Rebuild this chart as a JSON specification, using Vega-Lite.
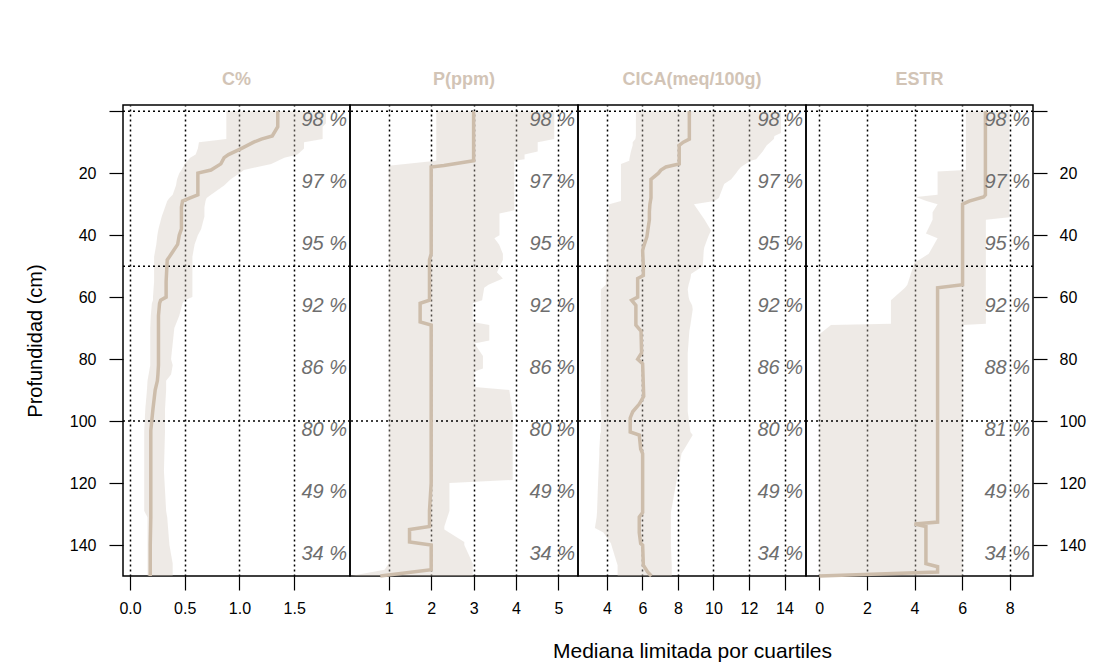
{
"$schema": "https://vega.github.io/schema/vega-lite/v6.json",
"padding": {"left": 24, "top": 70, "right": 5, "bottom": 5},
"spacing": 0,
"bounds": "flush",
"datasets": {
"c": [
{"d":0,"lo":0.88,"m":1.35,"hi":1.79},{"d":4,"lo":0.88,"m":1.35,"hi":1.79},{"d":5,"lo":0.88,"m":1.35,"hi":1.76},{"d":8,"lo":0.88,"m":1.3,"hi":1.76},{"d":9,"lo":0.88,"m":1.2,"hi":1.76},{"d":10,"lo":0.63,"m":1.13,"hi":1.59},{"d":12,"lo":0.62,"m":1.02,"hi":1.59},{"d":14,"lo":0.6,"m":0.9,"hi":1.53},{"d":15,"lo":0.55,"m":0.86,"hi":1.41},{"d":17,"lo":0.5,"m":0.83,"hi":1.29},{"d":19,"lo":0.47,"m":0.74,"hi":1.04},{"d":20,"lo":0.45,"m":0.62,"hi":1.0},{"d":22,"lo":0.43,"m":0.62,"hi":0.92},{"d":24,"lo":0.42,"m":0.62,"hi":0.86},{"d":27,"lo":0.39,"m":0.62,"hi":0.74},{"d":28,"lo":0.36,"m":0.55,"hi":0.7},{"d":29,"lo":0.34,"m":0.48,"hi":0.69},{"d":31,"lo":0.32,"m":0.47,"hi":0.68},{"d":34,"lo":0.29,"m":0.47,"hi":0.68},{"d":38,"lo":0.26,"m":0.47,"hi":0.65},{"d":40,"lo":0.25,"m":0.45,"hi":0.62},{"d":43,"lo":0.24,"m":0.435,"hi":0.59},{"d":47,"lo":0.22,"m":0.36,"hi":0.57},{"d":48,"lo":0.22,"m":0.34,"hi":0.57},{"d":55,"lo":0.22,"m":0.33,"hi":0.57},{"d":60,"lo":0.21,"m":0.33,"hi":0.57},{"d":61,"lo":0.21,"m":0.28,"hi":0.5},{"d":62,"lo":0.2,"m":0.27,"hi":0.48},{"d":66,"lo":0.19,"m":0.26,"hi":0.45},{"d":70,"lo":0.185,"m":0.26,"hi":0.405},{"d":80,"lo":0.185,"m":0.26,"hi":0.375},{"d":82,"lo":0.185,"m":0.26,"hi":0.39},{"d":85,"lo":0.17,"m":0.255,"hi":0.375},{"d":87,"lo":0.16,"m":0.25,"hi":0.33},{"d":90,"lo":0.155,"m":0.23,"hi":0.33},{"d":96,"lo":0.14,"m":0.21,"hi":0.32},{"d":103,"lo":0.13,"m":0.19,"hi":0.32},{"d":116,"lo":0.13,"m":0.19,"hi":0.31},{"d":129,"lo":0.13,"m":0.19,"hi":0.33},{"d":131,"lo":0.16,"m":0.19,"hi":0.34},{"d":140,"lo":0.16,"m":0.185,"hi":0.36},{"d":146,"lo":0.16,"m":0.185,"hi":0.39},{"d":150,"lo":0.16,"m":0.185,"hi":0.39}
],
"p": [
{"d":0,"lo":2.12,"m":3.0,"hi":4.9},{"d":9,"lo":2.12,"m":3.0,"hi":4.9},{"d":10,"lo":2.12,"m":3.0,"hi":4.51},{"d":13,"lo":2.12,"m":3.0,"hi":4.51},{"d":14,"lo":2.12,"m":3.0,"hi":4.2},{"d":15.5,"lo":2.12,"m":3.0,"hi":4.2},{"d":16,"lo":2.12,"m":3.0,"hi":3.96},{"d":17.5,"lo":1.05,"m":2.3,"hi":3.96},{"d":18,"lo":1.0,"m":2.0,"hi":3.96},{"d":32,"lo":1.0,"m":2.0,"hi":3.96},{"d":33,"lo":1.0,"m":2.0,"hi":3.61},{"d":40,"lo":1.0,"m":2.0,"hi":3.61},{"d":41,"lo":1.0,"m":2.0,"hi":3.49},{"d":43,"lo":1.0,"m":2.0,"hi":3.6},{"d":46,"lo":1.0,"m":2.0,"hi":3.69},{"d":48,"lo":1.0,"m":1.96,"hi":3.69},{"d":52,"lo":1.0,"m":1.96,"hi":3.55},{"d":54,"lo":1.0,"m":1.96,"hi":3.69},{"d":56,"lo":1.0,"m":1.96,"hi":3.35},{"d":57,"lo":1.0,"m":1.96,"hi":3.25},{"d":61,"lo":1.0,"m":1.96,"hi":3.2},{"d":62,"lo":1.0,"m":1.74,"hi":2.98},{"d":68,"lo":1.0,"m":1.74,"hi":2.98},{"d":69,"lo":1.0,"m":2.0,"hi":3.37},{"d":74,"lo":1.0,"m":2.0,"hi":3.37},{"d":75,"lo":1.0,"m":2.0,"hi":3.02},{"d":79,"lo":1.0,"m":2.0,"hi":3.22},{"d":83,"lo":1.0,"m":2.0,"hi":3.22},{"d":84,"lo":1.0,"m":2.0,"hi":3.02},{"d":89,"lo":1.0,"m":2.0,"hi":3.02},{"d":90,"lo":1.0,"m":2.0,"hi":3.84},{"d":97,"lo":1.0,"m":2.0,"hi":3.92},{"d":119,"lo":1.0,"m":2.0,"hi":3.92},{"d":120,"lo":1.0,"m":2.0,"hi":2.43},{"d":129,"lo":1.0,"m":1.96,"hi":2.43},{"d":134,"lo":1.0,"m":1.96,"hi":2.31},{"d":135,"lo":1.0,"m":1.49,"hi":2.31},{"d":139,"lo":1.0,"m":1.49,"hi":2.78},{"d":140,"lo":1.0,"m":2.0,"hi":2.78},{"d":146,"lo":1.0,"m":2.0,"hi":2.98},{"d":148,"lo":0.9,"m":2.0,"hi":2.98},{"d":150,"lo":0.1,"m":0.8,"hi":2.98}
],
"cica": [
{"d":0,"lo":5.63,"m":8.64,"hi":13.8},{"d":7,"lo":5.63,"m":8.64,"hi":13.8},{"d":8,"lo":5.63,"m":8.64,"hi":13.43},{"d":9,"lo":5.6,"m":8.64,"hi":13.4},{"d":10,"lo":5.45,"m":8.3,"hi":13.2},{"d":11,"lo":5.45,"m":8.07,"hi":13.0},{"d":13,"lo":5.35,"m":8.07,"hi":12.77},{"d":15.5,"lo":5.26,"m":8.07,"hi":12.4},{"d":16,"lo":5.26,"m":8.07,"hi":12.1},{"d":17,"lo":4.79,"m":8.07,"hi":11.8},{"d":18,"lo":4.79,"m":7.32,"hi":11.55},{"d":19,"lo":4.79,"m":7.04,"hi":11.4},{"d":20,"lo":4.79,"m":6.9,"hi":11.27},{"d":22,"lo":4.79,"m":6.48,"hi":11.0},{"d":23.5,"lo":4.79,"m":6.48,"hi":10.6},{"d":28,"lo":4.79,"m":6.48,"hi":10.3},{"d":29,"lo":4.79,"m":6.45,"hi":10.05},{"d":30,"lo":4.13,"m":6.42,"hi":8.9},{"d":32.5,"lo":4.1,"m":6.39,"hi":9.2},{"d":35,"lo":4.05,"m":6.39,"hi":9.5},{"d":38.5,"lo":4.0,"m":6.3,"hi":9.86},{"d":40.5,"lo":4.0,"m":6.25,"hi":9.7},{"d":44,"lo":4.0,"m":6.05,"hi":9.48},{"d":45,"lo":4.0,"m":6.01,"hi":9.45},{"d":50,"lo":4.0,"m":6.05,"hi":9.4},{"d":52.5,"lo":3.94,"m":6.05,"hi":8.73},{"d":53,"lo":3.94,"m":6.05,"hi":8.73},{"d":54,"lo":3.94,"m":5.73,"hi":8.7},{"d":56,"lo":3.94,"m":5.73,"hi":8.6},{"d":57.5,"lo":3.66,"m":5.73,"hi":8.55},{"d":60,"lo":3.66,"m":5.73,"hi":8.6},{"d":61,"lo":3.66,"m":5.39,"hi":8.65},{"d":62.7,"lo":3.66,"m":5.63,"hi":8.8},{"d":64,"lo":3.66,"m":5.63,"hi":8.83},{"d":69,"lo":3.66,"m":5.63,"hi":8.7},{"d":71,"lo":3.66,"m":5.92,"hi":8.64},{"d":78,"lo":3.66,"m":5.95,"hi":8.55},{"d":80,"lo":3.66,"m":5.73,"hi":8.55},{"d":81.5,"lo":3.66,"m":6.01,"hi":8.55},{"d":92,"lo":3.64,"m":6.07,"hi":8.55},{"d":94.5,"lo":3.64,"m":5.82,"hi":8.55},{"d":97,"lo":3.66,"m":5.45,"hi":8.55},{"d":99,"lo":3.68,"m":5.31,"hi":8.6},{"d":103.5,"lo":3.66,"m":5.31,"hi":8.7},{"d":104.5,"lo":3.62,"m":5.82,"hi":8.83},{"d":109,"lo":3.57,"m":5.9,"hi":8.36},{"d":110.5,"lo":3.57,"m":6.01,"hi":8.2},{"d":120,"lo":3.5,"m":6.01,"hi":7.9},{"d":129.5,"lo":3.44,"m":6.01,"hi":7.6},{"d":131,"lo":3.42,"m":5.82,"hi":7.6},{"d":134.5,"lo":3.32,"m":5.82,"hi":7.6},{"d":136,"lo":3.8,"m":5.82,"hi":7.6},{"d":139.5,"lo":4.23,"m":5.9,"hi":7.6},{"d":140,"lo":4.25,"m":6.01,"hi":7.6},{"d":146.5,"lo":4.6,"m":6.05,"hi":7.65},{"d":148.7,"lo":4.6,"m":6.29,"hi":7.65},{"d":150,"lo":4.6,"m":6.5,"hi":7.65}
],
"estr": [
{"d":0,"lo":6.16,"m":6.98,"hi":7.98},{"d":19,"lo":6.16,"m":6.98,"hi":7.98},{"d":19.5,"lo":4.97,"m":6.98,"hi":7.98},{"d":27,"lo":4.97,"m":6.98,"hi":7.98},{"d":27.7,"lo":4.06,"m":6.9,"hi":7.98},{"d":29,"lo":4.5,"m":6.3,"hi":7.98},{"d":30,"lo":4.97,"m":6.02,"hi":7.98},{"d":32.6,"lo":4.76,"m":6.02,"hi":7.98},{"d":34.2,"lo":4.76,"m":6.02,"hi":7.98},{"d":35,"lo":4.76,"m":6.02,"hi":7.0},{"d":39.5,"lo":4.48,"m":6.02,"hi":7.0},{"d":41,"lo":4.97,"m":6.02,"hi":7.0},{"d":46,"lo":4.6,"m":6.02,"hi":7.0},{"d":49,"lo":3.99,"m":6.02,"hi":7.0},{"d":56,"lo":3.7,"m":6.02,"hi":7.0},{"d":57,"lo":3.6,"m":4.97,"hi":7.0},{"d":61,"lo":3.01,"m":4.97,"hi":7.0},{"d":68.6,"lo":3.01,"m":4.97,"hi":7.0},{"d":69,"lo":0.49,"m":4.97,"hi":6.02},{"d":72,"lo":0.0,"m":4.97,"hi":6.02},{"d":132.6,"lo":0.0,"m":4.97,"hi":6.02},{"d":133.2,"lo":0.0,"m":4.0,"hi":6.02},{"d":134,"lo":0.0,"m":4.48,"hi":6.02},{"d":146,"lo":0.0,"m":4.48,"hi":6.02},{"d":147,"lo":0.0,"m":4.97,"hi":6.02},{"d":148.7,"lo":0.0,"m":4.97,"hi":6.02},{"d":150,"lo":0.0,"m":0.0,"hi":6.02}
],
"pct": [
{"d":0,"t":"98 %"},{"d":20,"t":"97 %"},{"d":40,"t":"95 %"},{"d":60,"t":"92 %"},{"d":80,"t":"86 %"},{"d":100,"t":"80 %"},{"d":120,"t":"49 %"},{"d":140,"t":"34 %"}
],
"pcte": [
{"d":0,"t":"98 %"},{"d":20,"t":"97 %"},{"d":40,"t":"95 %"},{"d":60,"t":"92 %"},{"d":80,"t":"88 %"},{"d":100,"t":"81 %"},{"d":120,"t":"49 %"},{"d":140,"t":"34 %"}
],
"grid": [{"g":0},{"g":50},{"g":100}]
},
"hconcat": [
{
"width": 227, "height": 471,
"title": {"text": "C%"},
"layer": [
{"data":{"name":"c"},"mark":{"type":"area","orient":"horizontal","color":"#CFC6BB","opacity":0.36},
 "encoding":{
  "y":{"field":"d","type":"quantitative","scale":{"domain":[-2,150],"reverse":true,"nice":false,"zero":false},
       "axis":{"values":[0,20,40,60,80,100,120,140],"labelExpr":"datum.value == 0 ? '' : datum.label","title":"Profundidad (cm)","titleFontSize":20,"labelPadding":13,"titlePadding":24,"grid":false}},
  "x":{"field":"lo","type":"quantitative","scale":{"domain":[-0.064,2.01],"nice":false,"zero":false},
       "axis":{"values":[0,0.5,1,1.5],"format":".1f","title":null,"grid":true,"labelPadding":10}},
  "x2":{"field":"hi"}}},
{"data":{"name":"grid"},"mark":{"type":"rule","strokeDash":[2,3],"strokeWidth":1.5,"color":"black"},"encoding":{"y":{"field":"g","type":"quantitative"}}},
{"data":{"name":"c"},"mark":{"type":"line","color":"#CDBDAB","strokeWidth":3.5},"encoding":{"x":{"field":"m","type":"quantitative"},"y":{"field":"d","type":"quantitative"},"order":{"field":"d","type":"quantitative"}}},
{"data":{"name":"pct"},"mark":{"type":"text","align":"right","baseline":"middle","dx":-3,"dy":9,"fontSize":20,"fontStyle":"italic","color":"#6E6E6E","font":"Liberation Sans"},"encoding":{"y":{"field":"d","type":"quantitative"},"x":{"datum":2.01},"text":{"field":"t"}}}
]
},
{
"width": 228, "height": 471,
"title": {"text": "P(ppm)"},
"layer": [
{"data":{"name":"p"},"mark":{"type":"area","orient":"horizontal","color":"#CFC6BB","opacity":0.36},
 "encoding":{
  "y":{"field":"d","type":"quantitative","scale":{"domain":[-2,150],"reverse":true,"nice":false,"zero":false},"axis":null},
  "x":{"field":"lo","type":"quantitative","scale":{"domain":[0.087,5.46],"nice":false,"zero":false},
       "axis":{"values":[1,2,3,4,5],"title":null,"grid":true,"labelPadding":10}},
  "x2":{"field":"hi"}}},
{"data":{"name":"grid"},"mark":{"type":"rule","strokeDash":[2,3],"strokeWidth":1.5,"color":"black"},"encoding":{"y":{"field":"g","type":"quantitative"}}},
{"data":{"name":"p"},"mark":{"type":"line","color":"#CDBDAB","strokeWidth":3.5},"encoding":{"x":{"field":"m","type":"quantitative"},"y":{"field":"d","type":"quantitative"},"order":{"field":"d","type":"quantitative"}}},
{"data":{"name":"pct"},"mark":{"type":"text","align":"right","baseline":"middle","dx":-3,"dy":9,"fontSize":20,"fontStyle":"italic","color":"#6E6E6E","font":"Liberation Sans"},"encoding":{"y":{"field":"d","type":"quantitative"},"x":{"datum":5.46},"text":{"field":"t"}}}
]
},
{
"width": 228, "height": 471,
"title": {"text": "CICA(meq/100g)"},
"layer": [
{"data":{"name":"cica"},"mark":{"type":"area","orient":"horizontal","color":"#CFC6BB","opacity":0.36},
 "encoding":{
  "y":{"field":"d","type":"quantitative","scale":{"domain":[-2,150],"reverse":true,"nice":false,"zero":false},"axis":null},
  "x":{"field":"lo","type":"quantitative","scale":{"domain":[2.37,15.21],"nice":false,"zero":false},
       "axis":{"values":[4,6,8,10,12,14],"title":"Mediana limitada por cuartiles","titleFontSize":21,"titlePadding":24,"grid":true,"labelPadding":10}},
  "x2":{"field":"hi"}}},
{"data":{"name":"grid"},"mark":{"type":"rule","strokeDash":[2,3],"strokeWidth":1.5,"color":"black"},"encoding":{"y":{"field":"g","type":"quantitative"}}},
{"data":{"name":"cica"},"mark":{"type":"line","color":"#CDBDAB","strokeWidth":3.5},"encoding":{"x":{"field":"m","type":"quantitative"},"y":{"field":"d","type":"quantitative"},"order":{"field":"d","type":"quantitative"}}},
{"data":{"name":"pct"},"mark":{"type":"text","align":"right","baseline":"middle","dx":-3,"dy":9,"fontSize":20,"fontStyle":"italic","color":"#6E6E6E","font":"Liberation Sans"},"encoding":{"y":{"field":"d","type":"quantitative"},"x":{"datum":15.21},"text":{"field":"t"}}}
]
},
{
"width": 227, "height": 471,
"title": {"text": "ESTR"},
"layer": [
{"data":{"name":"estr"},"mark":{"type":"area","orient":"horizontal","color":"#CFC6BB","opacity":0.36},
 "encoding":{
  "y":{"field":"d","type":"quantitative","scale":{"domain":[-2,150],"reverse":true,"nice":false,"zero":false},
       "axis":{"orient":"right","values":[0,20,40,60,80,100,120,140],"labelExpr":"datum.value == 0 ? '' : datum.label","title":null,"labelPadding":12,"grid":false}},
  "x":{"field":"lo","type":"quantitative","scale":{"domain":[-0.56,8.98],"nice":false,"zero":false},
       "axis":{"values":[0,2,4,6,8],"title":null,"grid":true,"labelPadding":10}},
  "x2":{"field":"hi"}}},
{"data":{"name":"grid"},"mark":{"type":"rule","strokeDash":[2,3],"strokeWidth":1.5,"color":"black"},"encoding":{"y":{"field":"g","type":"quantitative"}}},
{"data":{"name":"estr"},"mark":{"type":"line","color":"#CDBDAB","strokeWidth":3.5},"encoding":{"x":{"field":"m","type":"quantitative"},"y":{"field":"d","type":"quantitative"},"order":{"field":"d","type":"quantitative"}}},
{"data":{"name":"pcte"},"mark":{"type":"text","align":"right","baseline":"middle","dx":-3,"dy":9,"fontSize":20,"fontStyle":"italic","color":"#6E6E6E","font":"Liberation Sans"},"encoding":{"y":{"field":"d","type":"quantitative"},"x":{"datum":8.98},"text":{"field":"t"}}}
]
}
],
"config": {
"font": "Liberation Sans",
"view": {"stroke": "black", "strokeWidth": 1.5},
"axis": {"labelFont": "Liberation Sans", "labelFontSize": 16, "labelColor": "black", "tickColor": "black", "tickSize": 14, "tickWidth": 1.2, "domain": false,
 "titleFont": "Liberation Sans", "titleFontWeight": "normal", "titleColor": "black", "titleFontSize": 19,
 "gridColor": "black", "gridDash": [2,3], "gridWidth": 1.5, "gridOpacity": 1},
"title": {"font": "Liberation Sans", "fontSize": 18, "fontWeight": "bold", "color": "#D2C4B6", "offset": 15}
}
}
